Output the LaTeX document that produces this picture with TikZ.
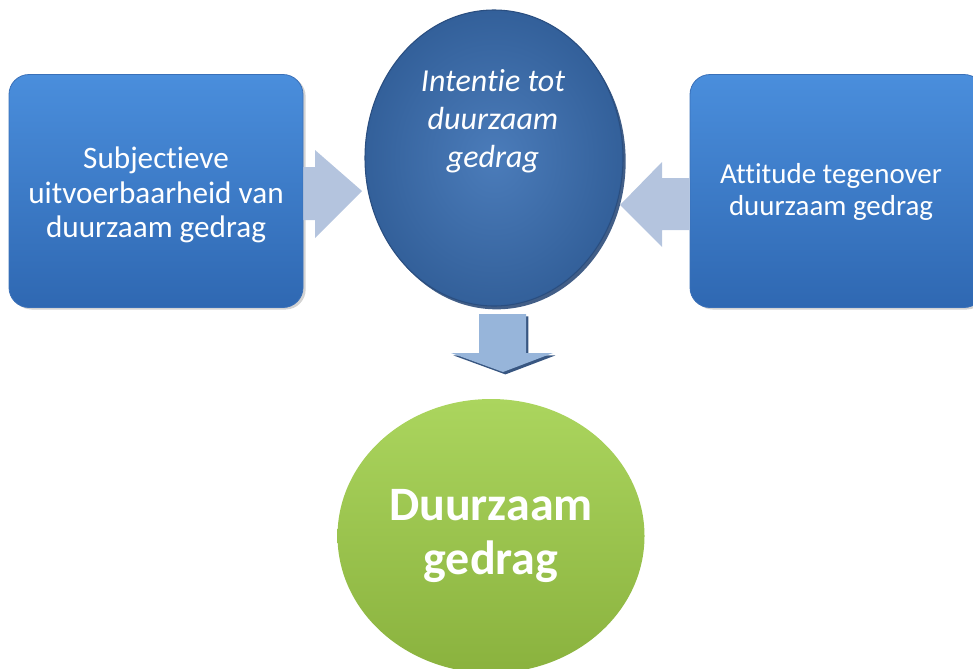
\documentclass[tikz,border=0pt]{standalone}
\usepackage{fontspec}
\setmainfont{Carlito}[Ligatures=NoCommon]
\usetikzlibrary{shapes.geometric,shadings,shadows}
\definecolor{boxtop}{HTML}{4A8EDC}
\definecolor{boxbot}{HTML}{2F68B2}
\definecolor{boxedge}{HTML}{3A70B8}
\definecolor{ellin}{HTML}{4B7CBA}
\definecolor{ellout}{HTML}{33609A}
\definecolor{elledge}{HTML}{2A4E80}
\definecolor{greentop}{HTML}{ABD55E}
\definecolor{greenbot}{HTML}{8AB23E}
\definecolor{sidearrow}{HTML}{B4C4DE}
\definecolor{downarrow}{HTML}{97B5DA}
\definecolor{darkshade}{HTML}{2D4D7A}
\tikzset{
  bluebox/.style={rectangle, rounded corners=15pt, minimum width=220.5pt,
    minimum height=174.75pt, top color=boxtop, bottom color=boxbot,
    draw=boxedge, line width=0.6pt, text=white, align=center,
    drop shadow={shadow xshift=2pt, shadow yshift=-1.5pt, opacity=0.35}},
  intentshape/.style={ellipse, minimum width=193.5pt, minimum height=222pt,
    inner color=ellin, outer color=ellout, draw=elledge, line width=0.8pt,
    drop shadow={shadow xshift=2pt, shadow yshift=-2.5pt, fill=darkshade, opacity=0.9}},
  intenttext/.style={text=white, align=center,
    font=\itshape\fontsize{24}{28.5}\selectfont},
  resultshape/.style={ellipse, minimum width=230.25pt, minimum height=205.5pt,
    top color=greentop, bottom color=greenbot, draw=none, text=white,
    align=center, font=\bfseries\fontsize{36}{41}\selectfont},
  sideblock/.style={fill=sidearrow, draw=none},
  downblock/.style={fill=downarrow, draw=none,
    drop shadow={shadow xshift=1.8pt, shadow yshift=-1.8pt, fill=darkshade, opacity=0.95}}
}
\begin{document}
\begin{tikzpicture}[x=0.75pt,y=-0.75pt]
\useasboundingbox (0,0) rectangle (973,668);

% the two input boxes
\node[bluebox] (subj) at (156,191) {};
\node[text=white, align=center, font=\fontsize{23.4}{26}\selectfont]
  (subjlabel) at (156,195) {Subjectieve\\uitvoerbaarheid van\\duurzaam gedrag};
\node[bluebox] (att) at (837,191) {};
\node[text=white, align=center, font=\fontsize{21.7}{23.5}\selectfont]
  (attlabel) at (831,192) {Attitude tegenover\\duurzaam gedrag};

% block arrows between the boxes and the intention
\fill[sideblock] (subj.east |- 0,167) -- (315,167) -- (315,150) -- (362,191)
  -- (315,238) -- (315,220) -- (subj.east |- 0,220) -- cycle;
\fill[sideblock] (att.west |- 0,178) -- (662,178) -- (662,162) -- (620,205)
  -- (662,247) -- (662,230) -- (att.west |- 0,230) -- cycle;

% intention
\node[intentshape] (intent) at (494,158) {};
\node[intenttext] (intentlabel) at (493,121) {Intentie tot\\duurzaam\\gedrag};

% downward block arrow
\path[downblock] (479,314) -- (526,314) -- (526,353) -- (553,353) -- (503,372)
  -- (451,353) -- (479,353) -- cycle;

% resulting behaviour
\node[resultshape] (result) at (491,536) {Duurzaam\\gedrag};
\end{tikzpicture}
\end{document}
